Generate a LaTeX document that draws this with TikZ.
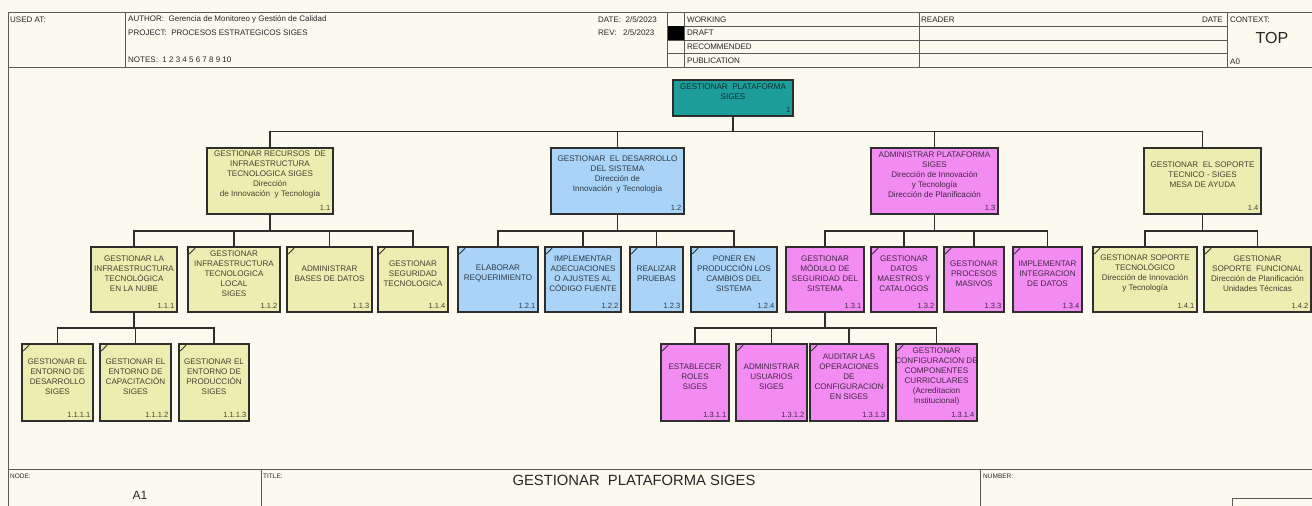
\documentclass[tikz,border=0pt]{standalone}
\usepackage{fontspec}
\setmainfont{Liberation Sans}
\definecolor{bg}{HTML}{FCF9EE}
\definecolor{yel}{HTML}{EEEDB1}
\definecolor{blu}{HTML}{A9D3F7}
\definecolor{mag}{HTML}{F28CF2}
\definecolor{tea}{HTML}{1E9E9B}
\definecolor{edge}{HTML}{2E2E2E}
\definecolor{frame}{HTML}{5A5A5A}
\tikzset{
 pbox/.style={draw=edge, line width=1.4pt, rectangle, inner sep=0pt, outer sep=0pt},
 ptext/.style={align=center, inner sep=0pt, font=\fontsize{8.1}{10}\selectfont, text=black, text opacity=0.72},
 pnum/.style={inner sep=0pt, font=\fontsize{7.5}{8}\selectfont, text=black, text opacity=0.72, anchor=base east},
 conn/.style={draw=edge, line width=1.3pt},
 tickmark/.style={draw=edge, line width=0.9pt},
 fr/.style={draw=frame, line width=0.8pt},
 htxt/.style={inner sep=0pt, anchor=west, font=\fontsize{8}{9}\selectfont, text=black!85},
 stxt/.style={inner sep=0pt, anchor=west, font=\fontsize{6.5}{7}\selectfont, text=black!85},
}
\newcommand{\pbx}[8]{%
 \node[pbox, fill=#6, minimum width={(#4-#2)*1pt}, minimum height={(#5-#3)*1pt}] (#1) at ({(#2+#4)/2},{(#3+#5)/2}) {};
 \node[ptext] (#1t) at ({(#2+#4)/2},{(#3+#5-12)/2}) {#7};
 \node[pnum] (#1n) at ({#4-2.5},{#5-3.5}) {#8};
}
\newcommand{\leafmark}[1]{\draw[tickmark] ([shift={(1.2pt,-7pt)}]#1.north west) -- ([shift={(7pt,-1.2pt)}]#1.north west);}
\newcommand{\cn}[3]{\draw[conn] (#1.south) -- (#1.south |- #3) -| (#2.north);}
\begin{document}
\begin{tikzpicture}[x=1pt,y=-1pt]
\useasboundingbox (0,0) rectangle (1312,506);
\clip (0,0) rectangle (1312,506);
\fill[bg] (0,0) rectangle (1312,506);
% header frame
\draw[fr] (8,12.7) -- (1312,12.7);
\draw[fr] (8,67.3) -- (1312,67.3);
\draw[fr] (8,12.7) -- (8,506);
\draw[fr] (125,12.7) -- (125,67.3);
\draw[fr] (667,12.7) -- (667,67.3);
\draw[fr] (684,12.7) -- (684,67.3);
\draw[fr] (919,12.7) -- (919,67.3);
\draw[fr] (1227,12.7) -- (1227,67.3);
\draw[fr] (667,26.3) -- (1227,26.3);
\draw[fr] (667,40) -- (1227,40);
\draw[fr] (667,53.3) -- (1227,53.3);
\fill[black] (668,26.3) rectangle (683.5,40);
\node[htxt] (hused) at (10,19.5) {USED AT:};
\node[htxt] (hauth) at (128,19.5) {AUTHOR:\ \ Gerencia de Monitoreo y Gestión de Calidad};
\node[htxt] (hproj) at (128,32.5) {PROJECT:\ \ PROCESOS ESTRATEGICOS SIGES};
\node[htxt] (hnotes) at (128,60) {NOTES:\ \ 1\ 2\ 3\ 4\ 5\ 6\ 7\ 8\ 9\ 10};
\node[htxt] (hdate) at (598,19.5) {DATE:\ \ 2/5/2023};
\node[htxt] (hrev) at (598,32.5) {REV:\ \ \ 2/5/2023};
\node[htxt] (hwork) at (687,19.5) {WORKING};
\node[htxt] (hdraft) at (687,33.2) {DRAFT};
\node[htxt] (hrec) at (687,46.7) {RECOMMENDED};
\node[htxt] (hpub) at (687,60.3) {PUBLICATION};
\node[htxt] (hread) at (921,19.5) {READER};
\node[htxt, anchor=east] (hrdate) at (1223,19.5) {DATE};
\node[htxt] (hctx) at (1230,19.5) {CONTEXT:};
\node[inner sep=0pt, font=\fontsize{16}{18}\selectfont, text=black!85] (htop) at (1272,38) {TOP};
\node[htxt] (ha0) at (1230,61.5) {A0};
% title block
\draw[fr] (8,469.3) -- (1312,469.3);
\draw[fr] (261.8,469.3) -- (261.8,506);
\draw[fr] (980,469.3) -- (980,506);
\draw[fr] (1232,498.3) rectangle (1320,512);
\node[stxt] (bnode) at (10,476) {NODE:};
\node[inner sep=0pt, font=\fontsize{12}{14}\selectfont, text=black!85] (ba1) at (140,495) {A1};
\node[stxt] (btitle) at (263,476) {TITLE:};
\node[inner sep=0pt, font=\fontsize{14.8}{16}\selectfont, text=black!85] (bmain) at (634,480) {GESTIONAR\ \ PLATAFORMA SIGES};
\node[stxt] (bnum) at (983,476) {NUMBER:};
% bar levels
\coordinate (y1) at (0,131.7);
\coordinate (y2) at (0,231);
\coordinate (y3) at (0,328);
% boxes
\pbx{b1}{673}{80}{793}{116}{tea}{GESTIONAR\ \ PLATAFORMA\\SIGES}{1}
\pbx{b11}{207}{148}{333}{214}{yel}{GESTIONAR RECURSOS\ \ DE\\INFRAESTRUCTURA\\TECNOLOGICA SIGES\\Dirección\\de Innovación\ \ y Tecnología}{1.1}
\pbx{b12}{551}{148}{684}{214}{blu}{GESTIONAR\ \ EL DESARROLLO\\DEL SISTEMA\\Dirección de\\Innovación\ \ y Tecnología}{1.2}
\pbx{b13}{871}{148}{998}{214}{mag}{ADMINISTRAR PLATAFORMA\\SIGES\\Dirección de Innovación\\y Tecnología\\Dirección de Planificación}{1.3}
\pbx{b14}{1144}{148}{1261}{214}{yel}{GESTIONAR\ \ EL SOPORTE\\TECNICO - SIGES\\MESA DE AYUDA}{1.4}
\pbx{b111}{91}{247}{177}{312}{yel}{GESTIONAR LA\\INFRAESTRUCTURA\\TECNOLÓGICA\\EN LA NUBE}{1.1.1}
\pbx{b112}{188}{247}{280}{312}{yel}{GESTIONAR\\INFRAESTRUCTURA\\TECNOLOGICA\\LOCAL\\SIGES}{1.1.2}
\pbx{b113}{287}{247}{372}{312}{yel}{ADMINISTRAR\\BASES DE DATOS}{1.1.3}
\pbx{b114}{378}{247}{448}{312}{yel}{GESTIONAR\\SEGURIDAD\\TECNOLOGICA}{1.1.4}
\pbx{b121}{458}{247}{538}{312}{blu}{ELABORAR\\REQUERIMIENTO}{1.2.1}
\pbx{b122}{545}{247}{621}{312}{blu}{IMPLEMENTAR\\ADECUACIONES\\O AJUSTES AL\\CÓDIGO FUENTE}{1.2.2}
\pbx{b123}{630}{247}{683}{312}{blu}{REALIZAR\\PRUEBAS}{1.2.3}
\pbx{b124}{691}{247}{777}{312}{blu}{PONER EN\\PRODUCCIÓN LOS\\CAMBIOS DEL\\SISTEMA}{1.2.4}
\pbx{b131}{786}{247}{864}{312}{mag}{GESTIONAR\\MÓDULO DE\\SEGURIDAD DEL\\SISTEMA}{1.3.1}
\pbx{b132}{871}{247}{937}{312}{mag}{GESTIONAR\\DATOS\\MAESTROS Y\\CATALOGOS}{1.3.2}
\pbx{b133}{944}{247}{1004}{312}{mag}{GESTIONAR\\PROCESOS\\MASIVOS}{1.3.3}
\pbx{b134}{1013}{247}{1082}{312}{mag}{IMPLEMENTAR\\INTEGRACION\\DE DATOS}{1.3.4}
\pbx{b141}{1093}{247}{1197}{312}{yel}{GESTIONAR SOPORTE\\TECNOLÓGICO\\Dirección de Innovación\\y Tecnología}{1.4.1}
\pbx{b142}{1204}{247}{1311}{312}{yel}{GESTIONAR\\SOPORTE\ \ FUNCIONAL\\Dirección de Planificación\\Unidades Técnicas}{1.4.2}
\pbx{b1111}{22}{344}{93}{421}{yel}{GESTIONAR EL\\ENTORNO DE\\DESARROLLO\\SIGES}{1.1.1.1}
\pbx{b1112}{100}{344}{171}{421}{yel}{GESTIONAR EL\\ENTORNO DE\\CAPACITACIÓN\\SIGES}{1.1.1.2}
\pbx{b1113}{179}{344}{249}{421}{yel}{GESTIONAR EL\\ENTORNO DE\\PRODUCCIÓN\\SIGES}{1.1.1.3}
\pbx{b1311}{661}{344}{729}{421}{mag}{ESTABLECER\\ROLES\\SIGES}{1.3.1.1}
\pbx{b1312}{736}{344}{807}{421}{mag}{ADMINISTRAR\\USUARIOS\\SIGES}{1.3.1.2}
\pbx{b1313}{810}{344}{888}{421}{mag}{AUDITAR LAS\\OPERACIONES\\DE\\CONFIGURACION\\EN SIGES}{1.3.1.3}
\pbx{b1314}{896}{344}{977}{421}{mag}{GESTIONAR\\CONFIGURACION DE\\COMPONENTES\\CURRICULARES\\(Acreditacion\\Institucional)}{1.3.1.4}
% leaf marks
\foreach \b in {b112,b113,b114,b121,b122,b123,b124,b132,b133,b134,b141,b142,b1111,b1112,b1113,b1311,b1312,b1313,b1314}{\leafmark{\b}}
% connectors
\foreach \c in {b11,b12,b13,b14}{\cn{b1}{\c}{y1}}
\foreach \c in {b111,b112,b113,b114}{\cn{b11}{\c}{y2}}
\foreach \c in {b121,b122,b123,b124}{\cn{b12}{\c}{y2}}
\foreach \c in {b131,b132,b133,b134}{\cn{b13}{\c}{y2}}
\foreach \c in {b141,b142}{\cn{b14}{\c}{y2}}
\foreach \c in {b1111,b1112,b1113}{\cn{b111}{\c}{y3}}
\foreach \c in {b1311,b1312,b1313,b1314}{\cn{b131}{\c}{y3}}
\end{tikzpicture}
\end{document}
